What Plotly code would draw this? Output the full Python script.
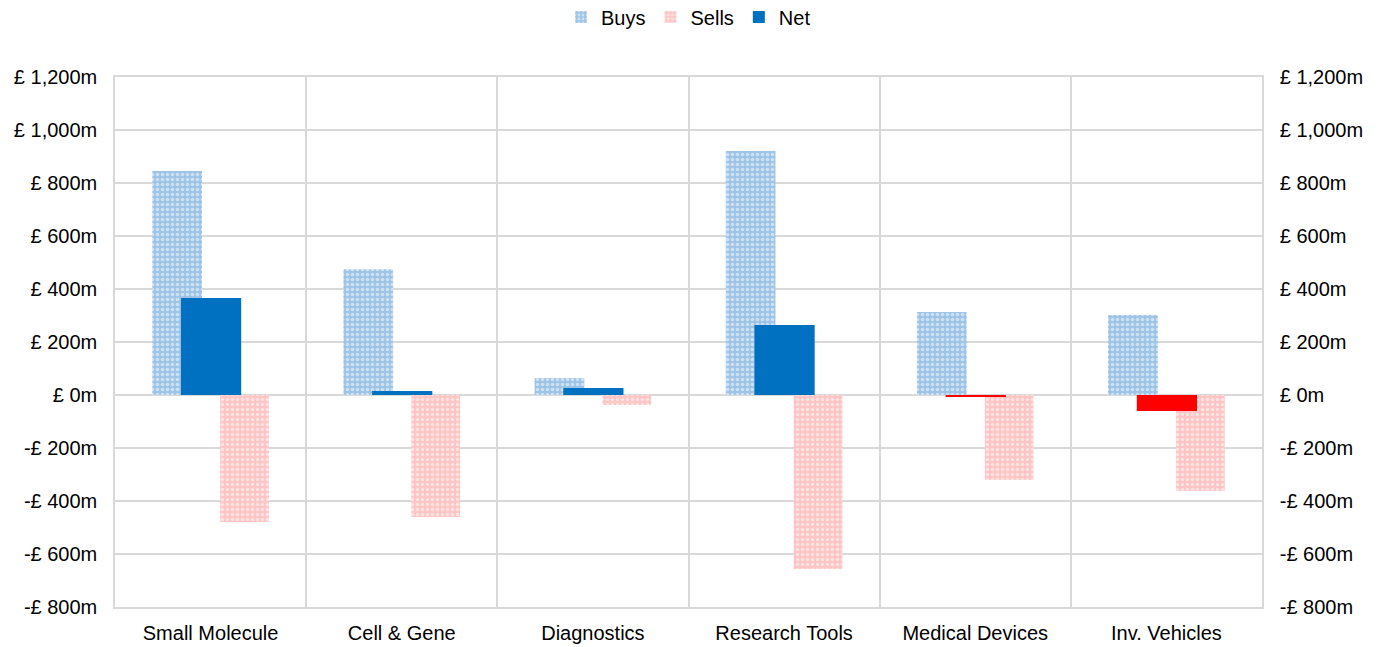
import plotly.graph_objects as go

categories = ["Small Molecule", "Cell & Gene", "Diagnostics", "Research Tools", "Medical Devices", "Inv. Vehicles"]
buys = [845, 475, 64, 921, 313, 302]
sells = [-479, -460, -38, -657, -321, -362]
net = [366, 15, 26, 264, -8, -60]
tick_vals = [-800, -600, -400, -200, 0, 200, 400, 600, 800, 1000, 1200]


def fmt(v):
    s = "£ {:,}m".format(abs(v))
    return ("-" + s) if v < 0 else s


tick_text = [fmt(v) for v in tick_vals]
net_colors = ["#0070C0" if v >= 0 else "#FF0000" for v in net]

FONT = "Arial, Liberation Sans, sans-serif"
FS = 20

fig = go.Figure()
fig.add_trace(go.Bar(
    name="Buys", x=categories, y=buys, width=0.26, offset=-0.305,
    marker=dict(color="#9DC3E6", line=dict(width=0),
                pattern=dict(shape=".", fgcolor="white", size=5, solidity=0.4)),
))
fig.add_trace(go.Bar(
    name="Sells", x=categories, y=sells, width=0.255, offset=0.05,
    marker=dict(color="#FFC4C4", line=dict(width=0),
                pattern=dict(shape=".", fgcolor="white", size=5, solidity=0.4)),
))
fig.add_trace(go.Bar(
    name="Net", x=categories, y=net, width=0.315, offset=-0.155,
    marker=dict(color=net_colors, line=dict(width=0)),
))
fig.add_trace(go.Scatter(x=categories, y=[None] * len(categories), yaxis="y2",
                         showlegend=False, hoverinfo="skip"))

yax = dict(range=[-800, 1200], tickvals=tick_vals, ticktext=tick_text,
           showgrid=True, gridcolor="#D9D9D9", gridwidth=1.5,
           zeroline=False, showline=True, linecolor="#D9D9D9", linewidth=1.5,
           ticks="outside", ticklen=12, tickcolor="rgba(0,0,0,0)",
           tickfont=dict(family=FONT, size=FS, color="#000000"))

fig.update_layout(
    width=1386, height=647,
    barmode="overlay",
    paper_bgcolor="white", plot_bgcolor="white",
    margin=dict(l=115, r=124, t=77, b=40, autoexpand=False),
    font=dict(family=FONT, size=FS, color="#000000"),
    showlegend=True,
    legend=dict(orientation="h", x=0.5, xanchor="center", y=1.113, yanchor="middle",
                font=dict(family=FONT, size=FS), itemwidth=30,
                traceorder="normal"),
    xaxis=dict(type="category", tickson="boundaries", showgrid=True,
               gridcolor="#D9D9D9", gridwidth=1.5, showline=True, linecolor="#D9D9D9",
               linewidth=1.5, mirror=True, ticks="", ticklabelstandoff=7,
               range=[-0.5, 5.5],
               tickfont=dict(family=FONT, size=FS, color="#000000")),
    yaxis=yax,
    yaxis2=dict(yax, overlaying="y", side="right", showgrid=False),
)

fig.write_html("out.html")
